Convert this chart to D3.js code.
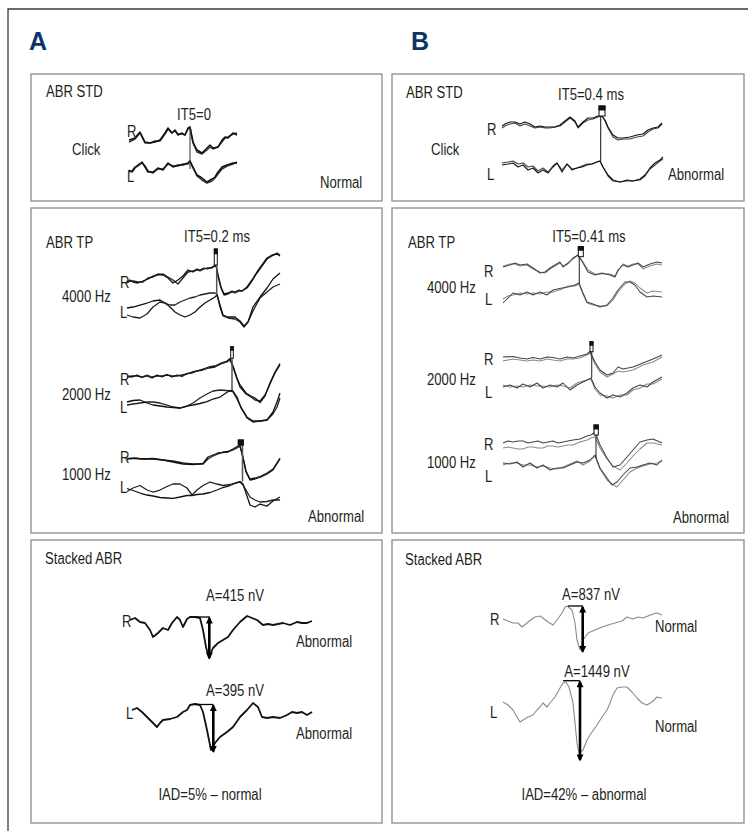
<!DOCTYPE html>
<html><head><meta charset="utf-8">
<script src="https://cdn.jsdelivr.net/npm/d3@7/dist/d3.min.js"></script>
<style>
html,body{margin:0;padding:0;background:#fff}
svg{display:block}
.t{font-family:"Liberation Sans",Arial,sans-serif;font-size:16px;fill:#231f20}
.hd{font-family:"Liberation Sans",Arial,sans-serif;font-weight:bold;font-size:25px;fill:#0a3566}
</style></head><body>
<svg id="c" width="753" height="831"></svg>
<script>
// ---------------- DATA ----------------
const panelLetters = ["A", "B"];
const panelTitles = ["ABR STD", "ABR TP", "Stacked ABR"];
const it5Labels = ["IT5=0", "IT5=0.4 ms", "IT5=0.2 ms", "IT5=0.41 ms"];
const freqLabels = ["4000 Hz", "2000 Hz", "1000 Hz"];
const earLabels = ["R", "L"];
const ampA = [415, 395];
const ampB = [837, 1449];
const iadValues = [5, 42];
const iadVerdicts = ["normal", "abnormal"];
const verdictStd = ["Normal", "Abnormal"];
const verdictTp = ["Abnormal", "Abnormal"];
const verdictStackA = ["Abnormal", "Abnormal"];
const verdictStackB = ["Normal", "Normal"];

// waveform rows: [sample, run1, run2]
const stdA_R = [[0,-3,-5],[6,-1,-2],[11,5,4],[16,-5,-6],[21,-6,-6],[26,-5,-4],[31,-3,-4],[36,4,3],[39,9,8],[43,4,4],[46,7,6],[49,2,3],[53,4,3],[56,2,2],[59,9,8],[61,10,10],[64,-5,-6],[68,-13,-15],[73,-16,-17],[78,-11,-13],[81,-8,-10],[84,-11,-12],[89,-10,-10],[93,-3,-5],[96,0,-1],[99,-1,0],[104,4,3],[108,2,4]];
const stdA_L = [[0,0,-2],[3,-2,-1],[6,2,3],[9,5,4],[13,8,7],[16,3,4],[19,-2,-1],[24,-2,-3],[29,2,1],[34,0,1],[39,7,6],[44,3,4],[49,5,4],[54,5,6],[59,7,6],[61,9,9],[63,5,4],[68,-5,-6],[73,-8,-10],[78,-12,-13],[83,-9,-11],[86,-7,-8],[89,-2,-4],[93,3,1],[98,5,4],[104,7,6],[108,7,8]];
const stdB_R = [[0,-1,-3],[3,1,-1],[8,3,1],[13,3,2],[18,1,-1],[23,3,1],[28,1,-1],[33,-2,-3],[38,-1,-2],[43,-2,-3],[48,-2,-3],[53,-2,-2],[58,0,-1],[63,4,3],[68,8,7],[73,4,3],[76,-2,-3],[81,3,2],[86,7,5],[91,7,6],[96,9,8],[100,9,9],[103,5,4],[106,-2,-3],[111,-10,-12],[116,-13,-15],[121,-13,-14],[128,-12,-14],[135,-10,-12],[141,-9,-11],[146,-5,-7],[151,-3,-4],[156,-2,-3],[160,2,1]];
const stdB_L = [[0,0,2],[6,1,3],[11,2,4],[16,-2,1],[21,0,2],[26,-5,-2],[31,-3,-1],[36,-8,-6],[41,-5,-3],[46,-8,-7],[51,-2,-1],[55,2,2],[60,-7,-5],[65,1,1],[70,-5,-4],[75,-3,-3],[80,-2,-1],[85,0,1],[90,1,1],[95,3,3],[98,4,4],[101,-2,-2],[106,-10,-11],[111,-15,-16],[118,-17,-17],[125,-15,-16],[131,-16,-16],[138,-14,-15],[143,-10,-11],[148,-3,-4],[153,2,0],[158,5,4],[161,8,6]];

const tpA_4000R = [[0,-1,-2],[3,1,0],[6,-1,0],[11,-2,-1],[16,0,-1],[21,2,3],[26,5,4],[31,7,6],[36,6,7],[41,3,4],[46,-2,1],[51,1,-3],[56,5,3],[61,11,9],[66,9,10],[70,12,11],[73,11,10],[77,13,12],[80,12,13],[85,14,13],[89,16,16],[91,6,5],[94,-6,-7],[97,-13,-14],[101,-12,-13],[105,-10,-11],[108,-11,-12],[112,-9,-10],[115,-10,-10],[120,-6,-7],[125,1,0],[130,9,8],[135,16,15],[140,23,22],[145,26,25],[150,27,28],[153,25,26]];
const tpA_4000L = [[0,0,-7],[6,1,-9],[13,3,-10],[20,5,-6],[26,7,1],[33,8,6],[38,5,5],[43,1,3],[48,-4,3],[53,-7,6],[58,-9,8],[63,-7,10],[68,-4,11],[73,1,13],[78,5,14],[83,8,15],[88,11,15],[90,13,14],[93,3,1],[96,-7,-8],[101,-9,-10],[108,-9,-11],[113,-13,-14],[117,-18,-19],[121,-14,-14],[126,1,-3],[133,11,10],[140,20,16],[146,29,21],[153,35,24]];
const tpA_2000R = [[0,0,-1],[5,-1,0],[10,1,0],[15,-1.5,-1],[20,0,1],[25,-2,-1],[30,1,0],[35,-1,0],[40,1.5,1],[45,-1,0],[50,1,0],[55,-0.5,1],[60,2.5,2],[65,3,4],[70,5,5],[76,7,6],[82,9,8],[88,10,9],[94,13,12],[100,15,14],[103,17.5,16],[106,10,9],[110,-2,-3],[113,-9,-11],[119,-17,-18],[124,-20,-21],[128,-22,-24],[133,-26.5,-25],[138,-20,-19],[143,-7,-8],[148,4,3],[153,12.5,11]];
const tpA_2000L = [[0,-1,-4],[6,0.5,-3],[13,1,-2],[20,-2,-1],[26,-4,-1],[33,-5,-2],[40,-6,-4],[46,-6.5,-6],[53,-7,-7],[60,-5,-5],[66,-4,-2],[73,-2.5,3],[80,-0.7,7],[86,2,10],[93,4,11],[99,8,10.5],[103,10.5,10],[106,10,9],[110,4,2],[114,-7,-6],[120,-17,-16],[126,-21,-20],[133,-20,-20],[140,-19,-19],[146,-11,-13],[150,-1,-6],[153,8,3]];
const tpA_1000R = [[0,0.5,0],[8,0.5,1],[16,0,0],[26,0.5,0],[36,-1,-1],[46,-3,-2],[56,-5,-4],[66,-5.5,-5],[76,-4.5,-5],[81,2,0],[86,4,3],[91,6,5],[96,6.5,7],[101,7.5,7],[106,10,9],[110,12.5,11],[113,13.5,13],[116,1,2],[119,-13,-12],[123,-21,-20],[128,-20,-19],[134,-18,-17],[140,-15,-14],[146,-11,-10],[153,0,1]];
const tpA_1000L = [[0,0.5,-2.5],[6,-1.5,1],[13,-4,3.5],[20,-6,-1],[26,-7,-3],[33,-8.5,-1],[40,-9,2.5],[46,-9.3,5],[53,-8,5],[60,-6.5,1],[65,-6.5,-6],[70,-5.5,-1],[76,-5,3.5],[83,-3.5,7],[90,-1,5],[96,1.5,3.5],[103,3.5,4.5],[108,5.5,6],[113,7.5,7],[116,5,4],[119,-4,-1],[123,-16,-8],[128,-18,-11],[133,-15,-13],[140,-17,-12.5],[146,-12,-11],[153,-8,-11]];

const tpB_4000R = [[0,-1,0],[7,1,2],[12,3,2],[17,1,0],[24,2,1],[30,-2,-3],[37,-7,-6],[42,-6,-7],[47,-2,-3],[52,1,0],[57,4,3],[60,-1,0],[65,3,2],[70,8,7],[75,11,11],[80,3,4],[85,-6,-4],[92,-9,-8],[99,-7,-8],[107,-9,-8],[112,-11,-10],[115,-4,-5],[120,1,2],[125,-1,0],[130,1,2],[135,3,2],[140,-1,-3],[147,2,0],[154,4,2],[159,3,1]];
const tpB_4000L = [[0,-9,-5],[5,-4,-2],[10,1,-1],[17,-1,1],[24,2,0],[30,-1,1],[37,2,0],[44,-1,2],[50,4,2],[59,6,5],[65,7,8],[72,9,8],[76,11,10],[80,1,0],[84,-8,-9],[90,-10,-11],[97,-13,-12],[104,-11,-12],[110,-4,-6],[115,4,2],[122,12,10],[127,12,13],[132,9,11],[137,2,6],[144,-3,1],[150,-2,3],[159,-3,2]];
const tpB_2000R = [[0,1,-3],[10,1.5,-1],[17,0,-2],[24,-1,-3],[30,0.5,-2],[37,-1,-3],[44,1,-1],[50,0.5,-2],[57,-1,-3],[64,1,-1],[70,0,-1],[77,2,0],[84,4,3],[87,6.5,5],[92,-4,-6],[97,-12,-14],[104,-17,-19],[110,-15,-16],[115,-9,-13],[120,-11,-14],[130,-9,-12],[140,-5,-7],[150,-1,-4],[159,3,1]];
const tpB_2000L = [[0,-1,1],[7,1,-1],[14,-2,0],[20,2,-1],[27,-1,1],[34,3,0],[40,-2,0],[47,1,-1],[54,-1,1],[60,3,0],[67,-4,-2],[74,1,3],[80,4,5],[88,8,7],[92,-1,-3],[97,-7,-9],[104,-12,-10],[110,-9,-12],[117,-11,-9],[124,-7,-9],[130,-2,-4],[137,1,-2],[144,-1,2],[150,4,2],[159,9,7]];
const tpB_1000R = [[0,-1,-6],[5,1,-5],[10,0,-6],[15,1,-7],[20,1,-7],[25,-1,-5],[30,0,-5],[35,1,-6],[40,-1,-6],[45,0,-4],[50,1,-4],[55,-1,-5],[60,0,-4],[65,1,-3],[70,2,-3],[77,3,0],[84,6,2],[88,7,4],[92,10,5],[97,-3,-6],[104,-16,-17],[110,-25,-24],[117,-23,-28],[124,-15,-21],[130,-8,-14],[137,0,-7],[144,2,-1],[150,3,-1],[159,-1,-3]];
const tpB_1000L = [[0,1,-1],[7,0,1],[14,2,1],[20,-3,-1],[27,1,-1],[34,-4,-3],[40,-1,-2],[47,-6,-4],[54,-4,-5],[60,-4,-3],[67,-1,0],[74,2,3],[80,1,-1],[87,4,3],[92,9,8],[97,-4,-5],[104,-14,-16],[109,-21,-20],[114,-18,-23],[120,-11,-16],[127,-4,-8],[134,-3,-4],[140,-1,-2],[147,1,0],[154,-1,1],[159,4,3]];

const stackA_R = [[0,0],[5,2],[10,-2],[15,-3],[20,-10],[23,-17],[28,-13],[33,-8],[38,-10],[42,-3],[47,3],[50,0],[53,-7],[57,1],[60,3],[65,3],[70,2],[73,-10],[76,-27],[79,-38],[83,-28],[88,-23],[93,-20],[98,-17],[103,-10],[110,-2],[117,4],[122,2],[127,0],[133,-5],[138,-4],[143,-5],[148,-4],[153,-3],[160,-5],[167,-2],[172,-3],[177,-3],[182,-1]];
const stackA_L = [[2,0],[7,2],[12,-2],[17,-7],[22,-12],[27,-17],[30,-13],[33,-10],[40,-9],[47,-7],[53,-2],[57,0],[60,5],[65,6],[70,5],[73,-2],[77,-20],[81,-40],[85,-33],[90,-27],[97,-22],[103,-17],[110,-7],[117,0],[123,7],[128,3],[132,-7],[137,-8],[143,-7],[150,-8],[157,-5],[162,-2],[167,-3],[172,-2],[177,-5],[182,-2]];
const stackB_R = [[0,0],[5,-2],[10,-4],[15,-4],[19,-8],[24,-4],[29,0],[32,2],[37,3],[40,1],[45,-3],[50,-6],[54,-1],[59,6],[62,12],[64,13],[69,9],[72,-4],[74,-21],[77,-31],[80,-21],[85,-14],[92,-11],[99,-8],[105,-6],[112,-4],[119,-2],[124,2],[130,0],[135,2],[140,1],[145,3],[150,5],[154,6],[159,4]];
const stackB_L = [[0,0],[5,-3],[10,-8],[14,-15],[17,-20],[20,-18],[25,-15],[30,-13],[34,-8],[37,-5],[40,-1],[44,-5],[47,-1],[52,5],[57,14],[60,19],[63,20],[66,15],[70,-1],[72,-21],[74,-41],[76,-51],[80,-48],[84,-38],[89,-30],[94,-23],[99,-15],[104,-8],[107,-1],[110,7],[114,14],[119,15],[124,15],[129,10],[134,4],[139,-1],[144,-3],[149,0],[154,5],[159,4]];

// wave V cursors: [sample, R amplitude, L amplitude]
const cursorStdA = [61, 10, 1];
const cursorStdB = [98.7, 9, 4];
const cursorTpA = [[89.7, 16, 13], [105, 18, 11], [115.5, 14, 7.3]];
const cursorTpB = [[76.3, 10, 11], [88.7, 6, 8], [93, 7, 6]];
// peak markers: [t0, t1, top, bottom, filled fraction]
const markStdB = [97, 103, 19, 9, 0.4];
const markTpA = [[87.3, 90.3, 32, 16, 0.3], [103.7, 106.3, 29.3, 17.7, 0.3], [111.3, 116.3, 19, 14, 1]];
const markTpB = [[75.3, 80.3, 19.3, 9.3, 0.35], [87, 90, 16.3, 6.3, 0.35], [91, 95.3, 17, 7, 0.4]];
// amplitude measures: [t start, t end, top, arrow t, trough]
const ampMarkA = [[65, 80, 3, 79.3, -38], [65, 83, 5.5, 83.3, -41.7]];
const ampMarkB = [[65, 80, 13, 79.7, -32.7], [60, 77, 21.3, 77, -58]];

// ---------------- DRAW ----------------
const svg = d3.select("#c");
const defs = svg.append("defs");
defs.append("marker").attr("id", "ah").attr("viewBox", "0 0 10 10")
  .attr("refX", 8).attr("refY", 5).attr("markerWidth", 8).attr("markerHeight", 7)
  .attr("markerUnits", "userSpaceOnUse").attr("orient", "auto-start-reverse")
  .append("path").attr("d", "M0,0L10,5L0,10z").attr("fill", "#000");

// condensed text: Liberation Sans squeezed horizontally
function txt(x, y, s, anchor) {
  return svg.append("text").attr("class", "t")
    .attr("transform", `translate(${x},${y}) scale(0.82,1)`)
    .attr("text-anchor", anchor || "start").text(s);
}

// outer frame (top & left)
svg.append("path").attr("d", "M8,831V9H748").attr("fill", "none")
  .attr("stroke", "#3a3a3a").attr("stroke-width", 1.3);

// panel boxes
const boxes = [[31,74,382,201],[392,74,744,201],[31,208,382,533],[392,208,744,533],[31,540,382,823],[392,540,744,823]];
svg.selectAll("rect.box").data(boxes).join("rect").attr("class", "box")
  .attr("x", d => d[0]).attr("y", d => d[1]).attr("width", d => d[2] - d[0]).attr("height", d => d[3] - d[1])
  .attr("fill", "none").attr("stroke", "#8a8a8a").attr("stroke-width", 1.3);

svg.append("text").attr("class", "hd").attr("x", 29).attr("y", 50).text(panelLetters[0]);
svg.append("text").attr("class", "hd").attr("x", 411).attr("y", 50).text(panelLetters[1]);

function scales(x0, y0, W) {
  return {
    x: d3.scaleLinear().domain([0, W]).range([x0, x0 + W]),
    y: d3.scaleLinear().domain([-60, 60]).range([y0 + 60, y0 - 60])
  };
}
function wave(rows, s, colors, w) {
  const n = rows[0].length - 1;
  for (let k = n; k >= 1; k--) {
    svg.append("path").datum(rows)
      .attr("d", d3.line().x(r => s.x(r[0])).y(r => s.y(r[k])))
      .attr("fill", "none").attr("stroke", colors[k - 1]).attr("stroke-width", w)
      .attr("stroke-linejoin", "round");
  }
}
function cursor(sR, sL, c, color, w) {
  svg.append("line").attr("x1", sR.x(c[0])).attr("x2", sR.x(c[0]))
    .attr("y1", sR.y(c[1])).attr("y2", sL.y(c[2]))
    .attr("stroke", color).attr("stroke-width", w);
}
function peakMark(s, m) {
  const x0 = s.x(m[0]), x1 = s.x(m[1]), y0 = s.y(m[2]), y1 = s.y(m[3]);
  svg.append("rect").attr("x", x0).attr("y", y0).attr("width", x1 - x0).attr("height", y1 - y0)
    .attr("fill", "#fff").attr("stroke", "#111").attr("stroke-width", 1);
  svg.append("rect").attr("x", x0).attr("y", y0).attr("width", x1 - x0).attr("height", (y1 - y0) * m[4])
    .attr("fill", "#111").attr("stroke", "#111").attr("stroke-width", 1);
}
function ampMark(s, a) {
  svg.append("line").attr("x1", s.x(a[0])).attr("x2", s.x(a[1])).attr("y1", s.y(a[2])).attr("y2", s.y(a[2]))
    .attr("stroke", "#000").attr("stroke-width", 1.3);
  svg.append("line").attr("x1", s.x(a[3])).attr("x2", s.x(a[3])).attr("y1", s.y(a[2]) + 1).attr("y2", s.y(a[4]))
    .attr("stroke", "#000").attr("stroke-width", 2.6)
    .attr("marker-start", "url(#ah)").attr("marker-end", "url(#ah)");
}

// ---- A1: ABR STD ----
{
  const sR = scales(129, 137, 108), sL = scales(129, 170, 108);
  wave(stdA_R, sR, ["#111", "#333"], 1.5);
  wave(stdA_L, sL, ["#111", "#333"], 1.5);
  cursor(sR, sL, cursorStdA, "#333", 1);
  txt(46, 97, panelTitles[0]);
  txt(194, 120, it5Labels[0], "middle");
  txt(72, 155, "Click");
  txt(127, 137, earLabels[0]);
  txt(127, 182, earLabels[1]);
  txt(320, 188, verdictStd[0]);
}
// ---- B1: ABR STD ----
{
  const sR = scales(502, 125, 160), sL = scales(502, 165, 160);
  wave(stdB_R, sR, ["#111", "#444"], 1.1);
  wave(stdB_L, sL, ["#111", "#444"], 1.1);
  cursor(sR, sL, cursorStdB, "#222", 1.1);
  peakMark(sR, markStdB);
  txt(406, 98, panelTitles[0]);
  txt(591, 100, it5Labels[1], "middle");
  txt(487, 135, earLabels[0]);
  txt(431, 155, "Click");
  txt(487, 180, earLabels[1]);
  txt(668, 180, verdictStd[1]);
}
// ---- A2: ABR TP ----
{
  const yR = [281, 376, 459], yL = [308, 401, 489];
  const dataR = [tpA_4000R, tpA_2000R, tpA_1000R], dataL = [tpA_4000L, tpA_2000L, tpA_1000L];
  const lblR = [288, 385, 463], lblF = [302, 400, 480], lblL = [318, 413, 493];
  for (let i = 0; i < 3; i++) {
    const sR = scales(127, yR[i], 153), sL = scales(127, yL[i], 153);
    wave(dataR[i], sR, ["#111", "#222"], 1.3);
    wave(dataL[i], sL, ["#111", "#222"], 1.3);
    cursor(sR, sL, cursorTpA[i], "#555", 1.5);
    peakMark(sR, markTpA[i]);
    txt(120, lblR[i], earLabels[0]);
    txt(62, lblF[i], freqLabels[i]);
    txt(120, lblL[i], earLabels[1]);
  }
  txt(46, 248, panelTitles[1]);
  txt(217, 242, it5Labels[2], "middle");
  txt(308, 522, verdictTp[0]);
}
// ---- B2: ABR TP ----
{
  const yR = [266, 358, 442], yL = [294, 386, 464];
  const dataR = [tpB_4000R, tpB_2000R, tpB_1000R], dataL = [tpB_4000L, tpB_2000L, tpB_1000L];
  const lblR = [277, 365, 450], lblF = [293, 385, 468], lblL = [305, 398, 482];
  for (let i = 0; i < 3; i++) {
    const sR = scales(503, yR[i], 159), sL = scales(503, yL[i], 159);
    wave(dataR[i], sR, ["#444", "#8a8a8a"], 1.05);
    wave(dataL[i], sL, ["#444", "#8a8a8a"], 1.05);
    cursor(sR, sL, cursorTpB[i], "#333", 1.1);
    peakMark(sR, markTpB[i]);
    txt(484, lblR[i], earLabels[0]);
    txt(427, lblF[i], freqLabels[i]);
    txt(485, lblL[i], earLabels[1]);
  }
  txt(408, 248, panelTitles[1]);
  txt(589, 242, it5Labels[3], "middle");
  txt(673, 523, verdictTp[1]);
}
// ---- A3: Stacked ABR ----
{
  const sR = scales(130, 620, 182), sL = scales(130, 710, 182);
  wave(stackA_R, sR, ["#111"], 1.8);
  wave(stackA_L, sL, ["#111"], 1.8);
  ampMark(sR, ampMarkA[0]);
  ampMark(sL, ampMarkA[1]);
  txt(45, 564, panelTitles[2]);
  txt(235, 601, "A=" + ampA[0] + " nV", "middle");
  txt(122, 627, earLabels[0]);
  txt(296, 647, verdictStackA[0]);
  txt(235, 696, "A=" + ampA[1] + " nV", "middle");
  txt(126, 719, earLabels[1]);
  txt(296, 739, verdictStackA[1]);
  txt(210, 800, "IAD=" + iadValues[0] + "% \u2013 " + iadVerdicts[0], "middle");
}
// ---- B3: Stacked ABR ----
{
  const sR = scales(503, 619, 159), sL = scales(503, 702, 159);
  wave(stackB_R, sR, ["#8a8a8a"], 1.1);
  wave(stackB_L, sL, ["#8a8a8a"], 1.1);
  ampMark(sR, ampMarkB[0]);
  ampMark(sL, ampMarkB[1]);
  txt(405, 565, panelTitles[2]);
  txt(591, 600, "A=" + ampB[0] + " nV", "middle");
  txt(490, 625, earLabels[0]);
  txt(655, 632, verdictStackB[0]);
  txt(597, 677, "A=" + ampB[1] + " nV", "middle");
  txt(490, 718, earLabels[1]);
  txt(655, 732, verdictStackB[1]);
  txt(584, 800, "IAD=" + iadValues[1] + "% \u2013 " + iadVerdicts[1], "middle");
}
</script>
</body></html>
